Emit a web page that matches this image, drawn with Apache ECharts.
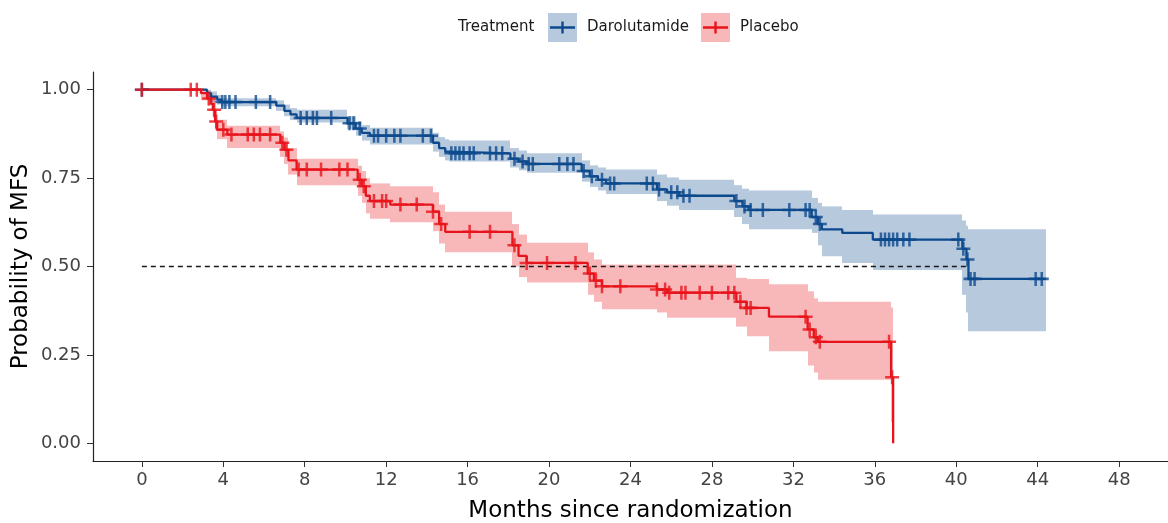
<!DOCTYPE html>
<html>
<head>
<meta charset="utf-8">
<script src="https://cdn.jsdelivr.net/npm/echarts@6/dist/echarts.min.js"></script>
<style>
  html, body { margin: 0; padding: 0; background: #ffffff; }
  #chart { width: 1168px; height: 523px; }
</style>
</head>
<body>
<div id="chart"></div>
<script>
// Axis ticks
const monthTicks = [0, 4, 8, 12, 16, 20, 24, 28, 32, 36, 40, 44, 48];
const probTicks = [0, 0.25, 0.5, 0.75, 1];

// Darolutamide: Kaplan-Meier steps (time of change, survival, 95% CI)
const daroTime  = [0, 3.2, 3.4, 3.7, 3.9, 6.6, 7.0, 7.3, 7.6, 10.1, 10.5, 10.8, 11.2, 14.3, 14.6, 14.9, 15.1, 18.1, 18.5, 18.9, 21.6, 22.0, 22.4, 22.8, 25.3, 25.8, 26.4, 29.1, 29.5, 29.8, 32.9, 33.2, 33.4, 34.4, 35.9, 40.3, 40.5, 40.6];
const daroSurv  = [1.000, 0.990, 0.980, 0.972, 0.965, 0.955, 0.940, 0.930, 0.920, 0.905, 0.890, 0.878, 0.870, 0.850, 0.835, 0.825, 0.820, 0.805, 0.797, 0.790, 0.770, 0.755, 0.745, 0.735, 0.718, 0.710, 0.700, 0.685, 0.670, 0.660, 0.640, 0.620, 0.605, 0.595, 0.576, 0.550, 0.520, 0.465];
const daroLower = [1.000, 0.975, 0.965, 0.958, 0.953, 0.940, 0.925, 0.914, 0.907, 0.888, 0.870, 0.856, 0.845, 0.825, 0.810, 0.800, 0.797, 0.780, 0.772, 0.765, 0.740, 0.725, 0.715, 0.705, 0.685, 0.672, 0.660, 0.640, 0.620, 0.605, 0.595, 0.560, 0.529, 0.510, 0.490, 0.420, 0.370, 0.317];
const daroUpper = [1.000, 1.000, 0.995, 0.985, 0.976, 0.970, 0.958, 0.948, 0.943, 0.925, 0.910, 0.900, 0.892, 0.878, 0.866, 0.860, 0.856, 0.835, 0.828, 0.820, 0.800, 0.786, 0.780, 0.774, 0.760, 0.752, 0.745, 0.730, 0.720, 0.715, 0.694, 0.680, 0.670, 0.660, 0.647, 0.630, 0.615, 0.605];
const daroEnd = 44.4;
const daroCensor = [0, 3.95, 4.1, 4.3, 4.6, 5.6, 6.3, 7.8, 8.1, 8.4, 8.6, 9.3, 10.2, 10.4, 10.7, 11.4, 11.6, 12.0, 12.4, 12.7, 13.8, 14.2, 15.2, 15.4, 15.6, 15.8, 16.1, 16.3, 17.1, 17.4, 17.7, 18.3, 18.7, 19.0, 19.2, 20.5, 20.9, 21.2, 21.7, 22.1, 22.6, 23.0, 23.2, 24.8, 25.1, 25.4, 26.0, 26.3, 26.6, 26.9, 29.2, 29.6, 29.9, 30.5, 31.8, 32.6, 32.8, 33.1, 33.3, 36.3, 36.5, 36.7, 36.9, 37.1, 37.4, 37.7, 40.1, 40.35, 40.55, 40.7, 40.9, 43.9, 44.2];

// Placebo: Kaplan-Meier steps (time of change, survival, 95% CI)
const placTime  = [0, 2.9, 3.2, 3.4, 3.5, 3.6, 3.7, 4.2, 6.8, 7.0, 7.2, 7.6, 10.6, 10.8, 11.0, 11.2, 12.2, 14.3, 14.6, 14.9, 18.2, 18.5, 18.9, 21.9, 22.2, 22.6, 25.3, 25.8, 29.2, 29.7, 30.8, 32.7, 33.0, 33.2, 36.8, 36.9];
const placSurv  = [1.000, 0.990, 0.975, 0.960, 0.943, 0.910, 0.887, 0.873, 0.850, 0.830, 0.800, 0.774, 0.745, 0.727, 0.700, 0.685, 0.675, 0.655, 0.620, 0.598, 0.560, 0.530, 0.510, 0.480, 0.460, 0.444, 0.435, 0.426, 0.400, 0.383, 0.358, 0.322, 0.300, 0.287, 0.187, 0.000];
const placLower = [1.000, 0.970, 0.955, 0.940, 0.920, 0.885, 0.860, 0.835, 0.810, 0.790, 0.760, 0.730, 0.700, 0.680, 0.650, 0.635, 0.625, 0.600, 0.565, 0.540, 0.500, 0.470, 0.455, 0.420, 0.400, 0.379, 0.370, 0.355, 0.330, 0.303, 0.260, 0.220, 0.200, 0.180, 0.060, 0.000];
const placUpper = [1.000, 1.000, 0.995, 0.985, 0.975, 0.945, 0.915, 0.898, 0.882, 0.865, 0.835, 0.805, 0.785, 0.770, 0.750, 0.735, 0.727, 0.710, 0.675, 0.655, 0.620, 0.590, 0.567, 0.540, 0.520, 0.506, 0.506, 0.506, 0.468, 0.465, 0.450, 0.430, 0.410, 0.400, 0.384, 0.000];
const placEnd = 36.9;
const placCensor = [0, 2.4, 2.7, 3.3, 3.55, 3.65, 4.0, 4.4, 5.2, 5.5, 5.8, 6.3, 6.9, 7.1, 7.7, 8.1, 8.8, 9.7, 10.1, 10.7, 10.9, 11.4, 11.8, 12.0, 12.7, 13.5, 14.3, 14.7, 16.1, 17.1, 18.3, 18.9, 19.9, 21.3, 22.0, 22.3, 22.6, 23.5, 25.3, 25.7, 25.9, 26.5, 26.7, 27.4, 28.0, 28.8, 29.1, 29.4, 29.7, 29.9, 32.6, 32.8, 33.1, 33.3, 36.7, 36.85];

const medianLevel = 0.5;

const daroColor = '#0D4A8D';
const placColor = '#E7141B';
const daroFill = 'rgba(15,76,143,0.30)';
const placFill = 'rgba(231,20,27,0.30)';
const FONT = 'DejaVu Sans';

// Survival value in effect at time t
function stepValue(times, vals, t) {
  let v = vals[0];
  for (let i = 0; i < times.length; i++) {
    if (times[i] <= t) v = vals[i]; else break;
  }
  return v;
}

function curvePoints(times, surv, end) {
  const pts = times.map((t, i) => [t, surv[i]]);
  if (end > times[times.length - 1]) pts.push([end, surv[surv.length - 1]]);
  return pts;
}

function bandRows(times, lo, hi, end) {
  const rows = [];
  for (let i = 0; i < times.length; i++) {
    const t1 = i + 1 < times.length ? times[i + 1] : end;
    if (t1 > times[i]) rows.push([times[i], t1, lo[i], hi[i]]);
  }
  return rows;
}

function censorPoints(times, surv, cens) {
  return cens.map(t => [t, stepValue(times, surv, t)]);
}

// Time at which a curve first reaches the median level
function medianTime(times, surv) {
  for (let i = 0; i < times.length; i++) if (surv[i] <= medianLevel) return times[i];
  return null;
}

function bandRenderer(fill) {
  return function (params, api) {
    const a = api.coord([api.value(0), api.value(3)]);
    const b = api.coord([api.value(1), api.value(2)]);
    const x0 = Math.round(a[0]);
    const x1 = Math.round(b[0]);
    return {
      type: 'rect',
      shape: { x: x0, y: a[1], width: x1 - x0, height: b[1] - a[1] },
      style: { fill: fill },
      silent: true
    };
  };
}

function keyIcon(line, fill) {
  const svg = '<svg xmlns="http://www.w3.org/2000/svg" width="29" height="29" viewBox="0 0 29 29">' +
    '<rect x="0" y="0" width="29" height="29" fill="' + fill + '"/>' +
    '<path d="M2 14.5H27M14.5 8.5V20.5" stroke="' + line + '" stroke-width="2.4" fill="none"/></svg>';
  return 'image://data:image/svg+xml;charset=utf-8,' + encodeURIComponent(svg);
}

const plusSymbol = 'path://M4.1,0H5.9V4.1H10V5.9H5.9V10H4.1V5.9H0V4.1H4.1Z';
const daroMedian = medianTime(daroTime, daroSurv);

const chart = echarts.init(document.getElementById('chart'), null, { renderer: 'canvas' });

chart.setOption({
  animation: false,
  backgroundColor: '#ffffff',
  title: {
    text: 'Treatment',
    left: 458,
    top: 20,
    padding: 0,
    textStyle: { fontFamily: FONT, fontSize: 15, fontWeight: 'normal', color: '#1a1a1a' }
  },
  legend: {
    left: 548,
    top: 13,
    padding: 0,
    itemWidth: 29,
    itemHeight: 29,
    itemGap: 12,
    selectedMode: false,
    textStyle: { fontFamily: FONT, fontSize: 15, color: '#1a1a1a', padding: [2, 0, 0, 5] },
    data: [
      { name: 'Darolutamide', icon: keyIcon(daroColor, '#B7C9DD') },
      { name: 'Placebo', icon: keyIcon(placColor, '#F8B7B8') }
    ]
  },
  grid: { left: 93, right: 0, top: 72, bottom: 62, containLabel: false, outerBoundsMode: 'none' },
  xAxis: {
    type: 'value',
    min: -2.4,
    max: 50.4,
    splitLine: { show: false },
    axisLine: { show: true, onZero: false, lineStyle: { color: '#222222', width: 1.2 } },
    axisTick: { show: true, customValues: monthTicks, length: 6, lineStyle: { color: '#333333', width: 1 } },
    axisLabel: { customValues: monthTicks, fontFamily: FONT, fontSize: 18, color: '#444444', margin: 10 },
    name: 'Months since randomization',
    nameLocation: 'middle',
    nameGap: 39,
    nameMoveOverlap: false,
    nameTextStyle: { fontFamily: FONT, fontSize: 23, color: '#000000' }
  },
  yAxis: {
    type: 'value',
    min: -0.05,
    max: 1.05,
    splitLine: { show: false },
    axisLine: { show: true, onZero: false, lineStyle: { color: '#222222', width: 1.2 } },
    axisTick: { show: true, customValues: probTicks, length: 6, lineStyle: { color: '#333333', width: 1 } },
    axisLabel: {
      customValues: probTicks,
      fontFamily: FONT, fontSize: 18, color: '#444444', margin: 12,
      formatter: v => v.toFixed(2)
    },
    name: 'Probability of MFS',
    nameLocation: 'middle',
    nameGap: 60,
    nameMoveOverlap: false,
    nameTextStyle: { fontFamily: FONT, fontSize: 23, color: '#000000' }
  },
  series: [
    {
      name: 'Darolutamide CI',
      type: 'custom',
      renderItem: bandRenderer(daroFill),
      dimensions: ['t0', 't1', 'lower', 'upper'],
      encode: { x: [0, 1], y: [2, 3] },
      data: bandRows(daroTime, daroLower, daroUpper, daroEnd),
      z: 1
    },
    {
      name: 'Placebo CI',
      type: 'custom',
      renderItem: bandRenderer(placFill),
      dimensions: ['t0', 't1', 'lower', 'upper'],
      encode: { x: [0, 1], y: [2, 3] },
      data: bandRows(placTime, placLower, placUpper, placEnd),
      z: 1
    },
    {
      name: 'Median',
      type: 'line',
      data: [[0, medianLevel], [daroMedian, medianLevel]],
      showSymbol: false,
      symbol: 'none',
      lineStyle: { color: '#1a1a1a', width: 1.3, type: [5, 4] },
      silent: true,
      z: 2
    },
    {
      name: 'Darolutamide',
      type: 'line',
      step: 'end',
      data: curvePoints(daroTime, daroSurv, daroEnd),
      showSymbol: false,
      symbol: 'none',
      color: daroColor,
      lineStyle: { color: daroColor, width: 2.3 },
      z: 3
    },
    {
      name: 'Placebo',
      type: 'line',
      step: 'end',
      data: curvePoints(placTime, placSurv, placEnd),
      showSymbol: false,
      symbol: 'none',
      color: placColor,
      lineStyle: { color: placColor, width: 2.3 },
      z: 3
    },
    {
      name: 'Darolutamide censored',
      type: 'scatter',
      data: censorPoints(daroTime, daroSurv, daroCensor),
      symbol: plusSymbol,
      symbolSize: [14, 14],
      itemStyle: { color: daroColor },
      silent: true,
      z: 4
    },
    {
      name: 'Placebo censored',
      type: 'scatter',
      data: censorPoints(placTime, placSurv, placCensor),
      symbol: plusSymbol,
      symbolSize: [14, 14],
      itemStyle: { color: placColor },
      silent: true,
      z: 4
    }
  ]
});
</script>
</body>
</html>
